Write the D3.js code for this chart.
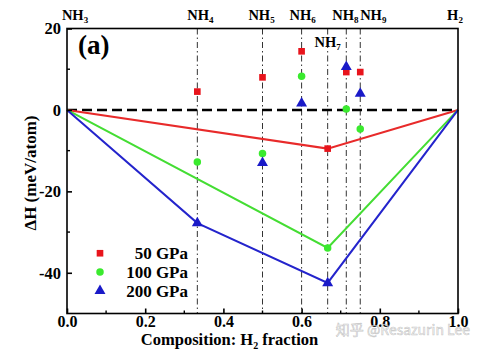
<!DOCTYPE html>
<html>
<head>
<meta charset="utf-8">
<script src="https://cdn.jsdelivr.net/npm/d3@7"></script>
<style>
  body { margin: 0; background: #fff; }
  text { font-family: "Liberation Serif", "Times New Roman", serif; font-weight: bold; }
</style>
</head>
<body>
<div id="hull"></div>
<script>
// *Compositions (H2 fraction) of NH_n phases
const phases = ["NH3", "NH4", "NH5", "NH6", "NH7", "NH8", "NH9", "H2"];
const fraction = [0, 1 / 3, 0.5, 0.6, 2 / 3, 5 / 7, 0.75, 1];

// *Formation enthalpy (meV/atom) per pressure, same order as phases
const dH50 = [0, 4.5, 8.0, 14.4, -9.5, 9.3, 9.3, 0];
const dH100 = [0, -12.8, -10.7, 8.3, -33.9, 0.2, -4.7, 0];
const dH200 = [0, -27.8, -13.0, 1.6, -42.5, 10.6, 4.0, 0];

// *Convex hull vertices (indexes into phases)
const hull50 = [0, 4, 7];
const hull100 = [0, 4, 7];
const hull200 = [0, 1, 4, 7];

const series = [
  { name: "50 GPa", values: dH50, hull: hull50, color: "#e8141c", line: "#e82a2a", shape: d3.symbolSquare },
  { name: "100 GPa", values: dH100, hull: hull100, color: "#3aea2e", line: "#44dd33", shape: d3.symbolCircle },
  { name: "200 GPa", values: dH200, hull: hull200, color: "#1a1ac8", line: "#2424cc", shape: d3.symbolTriangle },
];

const xTicks = [0, 0.2, 0.4, 0.6, 0.8, 1.0];
const xMinor = [0.1, 0.3, 0.5, 0.7, 0.9];
const yTicks = [20, 0, -20, -40];
const yMinor = [10, -10, -30];

let margin = { top: 28.5, right: 25, bottom: 39.5, left: 67 },
  width = 483 - margin.left - margin.right,
  height = 353 - margin.top - margin.bottom;

let svg = d3
  .select("#hull")
  .append("svg")
  .attr("width", 483)
  .attr("height", 353)
  .append("g")
  .attr("transform", "translate(" + margin.left + "," + margin.top + ")");

let x = d3.scaleLinear().domain([0, 1]).range([0, width]);
let y = d3.scaleLinear().domain([-50, 20]).range([height, 0]);

// *Vertical dash-dot guides for each NH_n phase
svg
  .selectAll(".guide")
  .data(fraction.slice(1, 7))
  .enter()
  .append("line")
  .attr("x1", (d) => x(d))
  .attr("x2", (d) => x(d))
  .attr("y1", 0)
  .attr("y2", height)
  .attr("stroke", "#333")
  .attr("stroke-width", 1)
  .attr("stroke-dasharray", "6,3,1.5,3");

// *Zero line
svg
  .append("line")
  .attr("x1", x(0))
  .attr("x2", x(1))
  .attr("y1", y(0))
  .attr("y2", y(0))
  .attr("stroke", "#000")
  .attr("stroke-width", 2.5)
  .attr("stroke-dasharray", "10,5");

// *Hull lines
series.forEach(function (s) {
  let ln = d3
    .line()
    .x((i) => x(fraction[i]))
    .y((i) => y(s.values[i]));
  svg
    .append("path")
    .attr("d", ln(s.hull))
    .attr("fill", "none")
    .attr("stroke", s.line)
    .attr("stroke-width", 2);
});

// *Markers (endpoints are references, no marker)
series.forEach(function (s) {
  let sym = d3.symbol().type(s.shape).size(s.shape === d3.symbolTriangle ? 52 : 44);
  svg
    .selectAll(null)
    .data(d3.range(1, 7))
    .enter()
    .append("path")
    .attr("d", sym)
    .attr("transform", (i) => "translate(" + x(fraction[i]) + "," + y(s.values[i]) + ")")
    .attr("fill", s.color);
});

// *Frame
svg
  .append("rect")
  .attr("width", width)
  .attr("height", height)
  .attr("fill", "none")
  .attr("stroke", "#000")
  .attr("stroke-width", 1.6);

// *X Axis ticks (inward)
svg
  .append("g")
  .attr("transform", "translate(0," + height + ")")
  .call(d3.axisBottom(x).tickValues(xTicks).tickSize(-5).tickFormat(d3.format(".1f")))
  .call((g) => g.select(".domain").remove())
  .call((g) => g.selectAll("line").attr("stroke-width", 1.6))
  .call((g) => g.selectAll("text").attr("y", 2).attr("font-size", 16).attr("fill", "#000"));
svg
  .selectAll(".xminor")
  .data(xMinor)
  .enter()
  .append("line")
  .attr("x1", (d) => x(d))
  .attr("x2", (d) => x(d))
  .attr("y1", height)
  .attr("y2", height - 3)
  .attr("stroke", "#000")
  .attr("stroke-width", 1.4);

// *Y Axis ticks (inward)
svg
  .append("g")
  .call(d3.axisLeft(y).tickValues(yTicks).tickSize(-5).tickFormat((d) => String(d)))
  .call((g) => g.select(".domain").remove())
  .call((g) => g.selectAll("line").attr("stroke-width", 1.6))
  .call((g) => g.selectAll("text").attr("x", -6).attr("font-size", 16.5).attr("fill", "#000"));
svg
  .selectAll(".yminor")
  .data(yMinor)
  .enter()
  .append("line")
  .attr("x1", 0)
  .attr("x2", 3)
  .attr("y1", (d) => y(d))
  .attr("y2", (d) => y(d))
  .attr("stroke", "#000")
  .attr("stroke-width", 1.4);

// *Axis labels
let xl = svg
  .append("text")
  .attr("x", width / 2 - 33)
  .attr("y", height + 31.5)
  .attr("text-anchor", "middle")
  .attr("font-size", 16.5);
xl.append("tspan").text("Composition: H");
xl.append("tspan").attr("font-size", 10).attr("dy", 4).text("2");
xl.append("tspan").attr("dy", -4).text(" fraction");

svg
  .append("text")
  .attr("transform", "translate(" + (-31) + "," + y(-15.5) + ") rotate(-90)")
  .attr("text-anchor", "middle")
  .attr("font-size", 17)
  .text("\u0394H (meV/atom)");

// *Panel tag
svg.append("text").attr("x", 11).attr("y", 25).attr("font-size", 27).text("(a)");

// *Phase labels across the top
const labelDx = [8, 3, -1, 1, 0, -1, 13, -3];
phases.forEach(function (p, i) {
  let t = svg
    .append("text")
    .attr("x", x(fraction[i]) + labelDx[i])
    .attr("y", i === 4 ? 18 : -8.5)
    .attr("text-anchor", "middle")
    .attr("font-size", 14.5);
  t.append("tspan").text(p.slice(0, -1));
  t.append("tspan").attr("font-size", 9).attr("dy", 3).text(p.slice(-1));
});

// *Legend
let legend = svg
  .selectAll(".legend")
  .data(series)
  .enter()
  .append("g")
  .attr("transform", (d, i) => "translate(0," + (y(-35.2) + i * 18.8) + ")");
legend
  .append("path")
  .attr("d", (d) => d3.symbol().type(d.shape).size(d.shape === d3.symbolTriangle ? 52 : 44)())
  .attr("transform", "translate(" + 33 + ",0)")
  .attr("fill", (d) => d.color);
legend
  .append("text")
  .attr("x", 121)
  .attr("y", 6)
  .attr("text-anchor", "end")
  .attr("font-size", 17)
  .text((d) => d.name);

// *Watermark
svg
  .append("text")
  .attr("x", width + 12)
  .attr("y", height + 21)
  .attr("text-anchor", "end")
  .attr("font-size", 14)
  .style("font-family", "'Noto Sans CJK SC', 'Noto Sans', sans-serif")
  .style("font-weight", "normal")
  .attr("fill", "#fff")
  .attr("fill-opacity", 0.6)
  .attr("stroke", "#999")
  .attr("stroke-opacity", 0.6)
  .attr("stroke-width", 0.6)
  .text("\u77e5\u4e4e @Resazurin Lee");
</script>
</body>
</html>
